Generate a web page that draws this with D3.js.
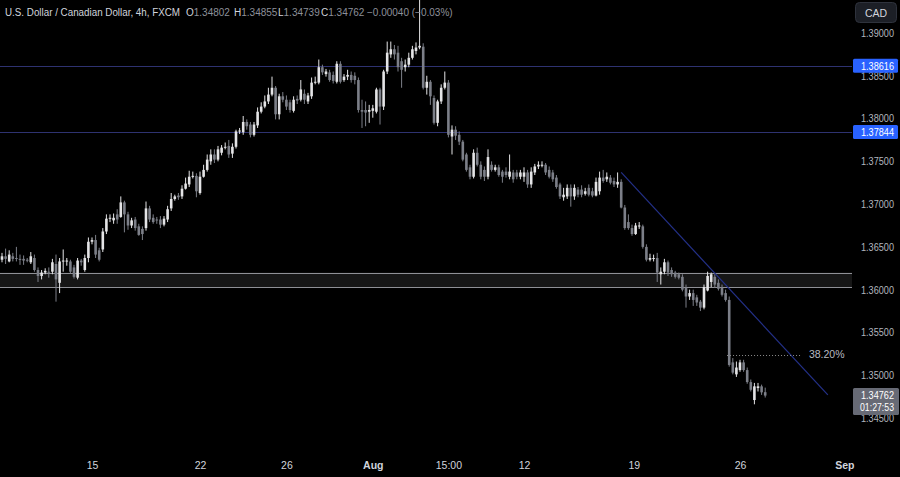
<!DOCTYPE html>
<html><head><meta charset="utf-8">
<script src="https://cdn.jsdelivr.net/npm/d3@7"></script>
<style>html,body{margin:0;padding:0;background:#000;overflow:hidden}</style>
</head><body>
<svg id="chart" width="900" height="477"></svg>
<script>
// ---- data (USD/CAD, 4h, FXCM) ----
const opens=[1.3635,1.3639,1.3633,1.3639,1.3637,1.3636,1.3636,1.3635,1.3632,1.3637,
1.3623,1.3616,1.3620,1.3621,1.3621,1.3630,1.3608,1.3633,1.3633,1.3633,
1.3626,1.3614,1.3634,1.3623,1.3637,1.3656,1.3658,1.3646,1.3647,1.3668,
1.3683,1.3681,1.3688,1.3685,1.3702,1.3688,1.3675,1.3682,1.3674,1.3671,
1.3672,1.3695,1.3684,1.3682,1.3682,1.3676,1.3682,1.3695,1.3706,1.3710,
1.3709,1.3718,1.3723,1.3732,1.3733,1.3713,1.3732,1.3740,1.3750,1.3758,
1.3752,1.3760,1.3766,1.3768,1.3759,1.3767,1.3785,1.3784,1.3796,1.3793,
1.3781,1.3792,1.3808,1.3814,1.3820,1.3828,1.3836,1.3805,1.3826,1.3822,
1.3819,1.3809,1.3823,1.3822,1.3829,1.3820,1.3826,1.3842,1.3842,1.3860,
1.3852,1.3854,1.3851,1.3843,1.3864,1.3845,1.3849,1.3851,1.3850,1.3845,
1.3810,1.3810,1.3808,1.3809,1.3808,1.3834,1.3814,1.3855,1.3875,1.3881,
1.3877,1.3867,1.3860,1.3863,1.3871,1.3879,1.3883,1.3884,1.3836,1.3843,
1.3824,1.3795,1.3820,1.3836,1.3842,1.3779,1.3787,1.3781,1.3773,1.3758,
1.3743,1.3732,1.3760,1.3746,1.3740,1.3732,1.3746,1.3740,1.3743,1.3738,
1.3738,1.3732,1.3737,1.3737,1.3732,1.3732,1.3737,1.3723,1.3737,1.3744,
1.3745,1.3746,1.3740,1.3737,1.3731,1.3723,1.3708,1.3709,1.3719,1.3709,
1.3717,1.3717,1.3712,1.3719,1.3715,1.3710,1.3715,1.3731,1.3729,1.3731,
1.3727,1.3723,1.3726,1.3696,1.3679,1.3672,1.3665,1.3674,1.3674,1.3650,
1.3635,1.3636,1.3637,1.3618,1.3621,1.3632,1.3623,1.3620,1.3618,1.3615,
1.3602,1.3592,1.3596,1.3591,1.3586,1.3579,1.3599,1.3609,1.3615,1.3608,
1.3602,1.3596,1.3588,1.3515,1.3501,1.3506,1.3515,1.3506,1.3492,1.3471,
1.3485,1.3487,1.34802];
const highs=[1.3643,1.3648,1.3646,1.3643,1.3650,1.3641,1.3640,1.3637,1.3644,1.3641,
1.3626,1.3623,1.3625,1.3626,1.3636,1.3641,1.3637,1.3647,1.3637,1.3635,
1.3629,1.3637,1.3636,1.3641,1.3661,1.3661,1.3664,1.3649,1.3672,1.3688,
1.3688,1.3689,1.3694,1.3709,1.3704,1.3691,1.3684,1.3685,1.3677,1.3674,
1.3703,1.3698,1.3688,1.3685,1.3686,1.3686,1.3698,1.3713,1.3711,1.3713,
1.3722,1.3731,1.3739,1.3738,1.3736,1.3738,1.3746,1.3758,1.3764,1.3764,
1.3768,1.3769,1.3772,1.3775,1.3771,1.3787,1.3789,1.3803,1.3799,1.3796,
1.3796,1.3813,1.3819,1.3827,1.3836,1.3849,1.3838,1.3829,1.3831,1.3827,
1.3822,1.3826,1.3827,1.3845,1.3834,1.3830,1.3848,1.3849,1.3869,1.3863,
1.3858,1.3857,1.3855,1.3867,1.3867,1.3852,1.3857,1.3855,1.3854,1.3848,
1.3822,1.3820,1.3816,1.3816,1.3836,1.3836,1.3857,1.3890,1.3890,1.3886,
1.3885,1.3871,1.3869,1.3877,1.3885,1.3889,1.3945,1.3888,1.3850,1.3845,
1.3827,1.3822,1.3840,1.3855,1.3845,1.3792,1.3791,1.3785,1.3775,1.3760,
1.3746,1.3764,1.3766,1.3750,1.3744,1.3764,1.3750,1.3746,1.3746,1.3740,
1.3743,1.3758,1.3740,1.3740,1.3740,1.3743,1.3740,1.3743,1.3747,1.3750,
1.3750,1.3748,1.3744,1.3740,1.3734,1.3725,1.3719,1.3723,1.3723,1.3723,
1.3720,1.3722,1.3719,1.3723,1.3719,1.3731,1.3738,1.3740,1.3737,1.3734,
1.3731,1.3737,1.3729,1.3699,1.3688,1.3676,1.3678,1.3679,1.3676,1.3653,
1.3642,1.3641,1.3643,1.3626,1.3636,1.3634,1.3626,1.3622,1.3620,1.3618,
1.3606,1.3600,1.3600,1.3594,1.3588,1.3606,1.3621,1.3620,1.3618,1.3612,
1.3606,1.3600,1.3592,1.3520,1.3516,1.3518,1.3518,1.3509,1.3495,1.3491,
1.3491,1.3489,1.34855];
const lows=[1.3632,1.3630,1.3632,1.3633,1.3633,1.3629,1.3629,1.3632,1.3630,1.3621,
1.3609,1.3612,1.3618,1.3614,1.3618,1.3586,1.3596,1.3621,1.3628,1.3619,
1.3613,1.3612,1.3628,1.3621,1.3632,1.3653,1.3637,1.3633,1.3644,1.3665,
1.3679,1.3677,1.3677,1.3684,1.3667,1.3670,1.3672,1.3669,1.3663,1.3658,
1.3669,1.3679,1.3677,1.3677,1.3672,1.3674,1.3679,1.3692,1.3704,1.3705,
1.3706,1.3717,1.3720,1.3730,1.3708,1.3711,1.3731,1.3738,1.3746,1.3748,
1.3750,1.3757,1.3764,1.3754,1.3754,1.3765,1.3782,1.3781,1.3787,1.3778,
1.3779,1.3789,1.3806,1.3812,1.3817,1.3826,1.3799,1.3799,1.3819,1.3810,
1.3807,1.3807,1.3817,1.3820,1.3817,1.3817,1.3823,1.3840,1.3840,1.3851,
1.3849,1.3843,1.3841,1.3841,1.3841,1.3843,1.3845,1.3842,1.3840,1.3807,
1.3789,1.3791,1.3795,1.3801,1.3806,1.3793,1.3810,1.3852,1.3871,1.3869,
1.3855,1.3836,1.3855,1.3860,1.3869,1.3875,1.3881,1.3834,1.3828,1.3816,
1.3793,1.3791,1.3817,1.3834,1.3778,1.3758,1.3775,1.3769,1.3750,1.3738,
1.3729,1.3730,1.3744,1.3729,1.3727,1.3729,1.3738,1.3738,1.3732,1.3725,
1.3731,1.3729,1.3725,1.3729,1.3729,1.3726,1.3719,1.3719,1.3734,1.3741,
1.3743,1.3734,1.3730,1.3726,1.3718,1.3706,1.3704,1.3706,1.3697,1.3705,
1.3708,1.3708,1.3710,1.3709,1.3708,1.3709,1.3711,1.3725,1.3726,1.3723,
1.3720,1.3719,1.3695,1.3670,1.3670,1.3663,1.3664,1.3671,1.3648,1.3633,
1.3633,1.3633,1.3609,1.3606,1.3618,1.3616,1.3615,1.3613,1.3612,1.3598,
1.3579,1.3588,1.3581,1.3581,1.3575,1.3577,1.3598,1.3603,1.3602,1.3599,
1.3592,1.3586,1.3510,1.3501,1.3498,1.3504,1.3504,1.3490,1.3481,1.3466,
1.3481,1.3477,1.34739];
const closes=[1.3639,1.3636,1.3641,1.3636,1.3636,1.3635,1.3634,1.3634,1.3639,1.3623,
1.3616,1.3620,1.3622,1.3620,1.3632,1.3612,1.3633,1.3634,1.3634,1.3621,
1.3615,1.3634,1.3632,1.3637,1.3656,1.3658,1.3641,1.3635,1.3668,1.3683,
1.3684,1.3684,1.3682,1.3702,1.3688,1.3675,1.3681,1.3672,1.3664,1.3665,
1.3695,1.3682,1.3679,1.3681,1.3676,1.3683,1.3694,1.3706,1.3709,1.3708,
1.3718,1.3724,1.3732,1.3733,1.3715,1.3732,1.3740,1.3752,1.3758,1.3752,
1.3764,1.3766,1.3767,1.3758,1.3767,1.3785,1.3786,1.3796,1.3791,1.3781,
1.3793,1.3808,1.3814,1.3820,1.3828,1.3836,1.3805,1.3826,1.3822,1.3814,
1.3810,1.3822,1.3821,1.3834,1.3822,1.3827,1.3842,1.3843,1.3860,1.3854,
1.3855,1.3845,1.3844,1.3864,1.3843,1.3849,1.3851,1.3845,1.3845,1.3810,
1.3808,1.3807,1.3810,1.3812,1.3834,1.3814,1.3855,1.3877,1.3881,1.3875,
1.3860,1.3857,1.3863,1.3871,1.3881,1.3883,1.3885,1.3836,1.3843,1.3826,
1.3795,1.3820,1.3836,1.3842,1.3781,1.3787,1.3780,1.3773,1.3752,1.3740,
1.3732,1.3760,1.3746,1.3732,1.3732,1.3755,1.3740,1.3743,1.3734,1.3732,
1.3734,1.3738,1.3729,1.3732,1.3737,1.3737,1.3723,1.3738,1.3744,1.3746,
1.3746,1.3737,1.3732,1.3729,1.3720,1.3709,1.3711,1.3719,1.3709,1.3719,
1.3711,1.3711,1.3715,1.3711,1.3710,1.3726,1.3731,1.3727,1.3732,1.3725,
1.3723,1.3726,1.3696,1.3672,1.3672,1.3665,1.3675,1.3675,1.3650,1.3635,
1.3637,1.3637,1.3620,1.3621,1.3632,1.3620,1.3618,1.3615,1.3614,1.3600,
1.3592,1.3596,1.3588,1.3585,1.3579,1.3603,1.3616,1.3618,1.3606,1.3601,
1.3594,1.3588,1.3512,1.3503,1.3509,1.3515,1.3506,1.3492,1.3483,1.3487,
1.3487,1.3480,1.34762];

const priceTicks=[1.390,1.385,1.380,1.375,1.370,1.365,1.360,1.355,1.350,1.345];
const timeTickBars=[25,55,79,103,124,145,175.5,205,234];
const timeTickLabels=["15","22","26","Aug","15:00","12","19","26","Sep"];
const levelPrices=[1.38616,1.37844];
const zonePrices=[1.3603,1.3620];
const trendPoints=[[172,1.3737],[229.4,1.3477]];
const fibBars=[201.4,222.2];
const fibPrice=1.3524;
const fibLabel="38.20%";
const lastPrice=1.34762;
const lastTimer="01:27:53";
const titleText="U.S. Dollar / Canadian Dollar, 4h, FXCM";
const ohlcLetters=["O","H","L","C"];
const ohlcValues=["1.34802","1.34855","1.34739","1.34762"];
const changeText="\u22120.00040 (\u22120.03%)";
const currency="CAD";

// ---- drawing ----
const W=900,H=477,plotR=852;
const svg=d3.select("#chart");
const font="'Liberation Sans', Arial, sans-serif";
svg.append("rect").attr("width",W).attr("height",H).attr("fill","#000");

const x=d3.scaleLinear().domain([-0.5556,236.11]).range([0,plotR]);
const y=d3.scaleLinear().domain([1.345,1.39]).range([418,33]);

svg.append("clipPath").attr("id","plot").append("rect").attr("x",0).attr("y",0).attr("width",plotR).attr("height",450);
const plot=svg.append("g").attr("clip-path","url(#plot)");

// zone
plot.append("rect").attr("x",0).attr("width",plotR)
  .attr("y",y(zonePrices[1])).attr("height",y(zonePrices[0])-y(zonePrices[1]))
  .attr("fill","#161616");
zonePrices.forEach(p=>plot.append("line").attr("x1",0).attr("x2",plotR)
  .attr("y1",Math.round(y(p))+0.5).attr("y2",Math.round(y(p))+0.5)
  .attr("stroke","#8f9096").attr("stroke-width",1));

// horizontal levels
levelPrices.forEach(p=>plot.append("line").attr("x1",0).attr("x2",plotR)
  .attr("y1",Math.round(y(p))+0.5).attr("y2",Math.round(y(p))+0.5)
  .attr("stroke","#2e3270").attr("stroke-width",1.2));

// candles
const data=closes.map((c,i)=>({i,o:opens[i],h:highs[i],l:lows[i],c}));
const bull="#e4e4e6",bear="#7c7f88";
const bw=2.6;
const cg=plot.append("g");
cg.selectAll("line.w").data(data).join("line")
  .attr("x1",d=>x(d.i)).attr("x2",d=>x(d.i))
  .attr("y1",d=>y(d.h)).attr("y2",d=>y(d.l))
  .attr("stroke",d=>d.c>=d.o?bull:bear).attr("stroke-width",1);
cg.selectAll("rect.b").data(data).join("rect")
  .attr("x",d=>x(d.i)-bw/2).attr("width",bw)
  .attr("y",d=>y(Math.max(d.o,d.c)))
  .attr("height",d=>Math.max(1,Math.abs(y(d.o)-y(d.c))))
  .attr("fill",d=>d.c>=d.o?bull:bear);

// trend line
plot.append("line")
  .attr("x1",x(trendPoints[0][0])).attr("y1",y(trendPoints[0][1]))
  .attr("x2",x(trendPoints[1][0])).attr("y2",y(trendPoints[1][1]))
  .attr("stroke","#233088").attr("stroke-width",1.2);

// fib level
plot.append("line").attr("x1",x(fibBars[0])).attr("x2",x(fibBars[1]))
  .attr("y1",Math.round(y(fibPrice))+0.5).attr("y2",Math.round(y(fibPrice))+0.5)
  .attr("stroke","#8a8a8a").attr("stroke-width",1).attr("stroke-dasharray","1,2");
plot.append("text").attr("x",x(fibBars[1])+7).attr("y",y(fibPrice)).attr("dy","0.35em")
  .attr("fill","#b8bac0").attr("font-family",font).attr("font-size",10.5).text(fibLabel);

// price axis
const ya=svg.append("g").attr("transform",`translate(${plotR},0)`)
  .call(d3.axisRight(y).tickValues(priceTicks).tickFormat(d3.format(".5f")).tickSize(0).tickPadding(9));
ya.select(".domain").remove();
ya.selectAll("text").attr("fill","#b2b5be").attr("font-family",font).attr("font-size",10.5)
  .attr("textLength",33).attr("lengthAdjust","spacingAndGlyphs");

// level labels
levelPrices.forEach(p=>{
  const g=svg.append("g").attr("transform",`translate(${plotR+1},${y(p)})`);
  g.append("rect").attr("x",0).attr("y",-7).attr("width",45).attr("height",14).attr("rx",1.5).attr("fill","#2962ff");
  g.append("text").attr("x",8).attr("y",0).attr("dy","0.35em").attr("fill","#fff")
    .attr("font-family",font).attr("font-size",10.5).attr("textLength",33).attr("lengthAdjust","spacingAndGlyphs")
    .text(d3.format(".5f")(p));
});

// last price label
{
  const yp=y(lastPrice);
  const g=svg.append("g").attr("transform",`translate(${plotR+1},${yp})`);
  g.append("rect").attr("x",0).attr("y",-7.5).attr("width",46).attr("height",27).attr("rx",1.5).attr("fill","#676a75");
  g.append("text").attr("x",8).attr("y",0).attr("dy","0.35em").attr("fill","#fff")
    .attr("font-family",font).attr("font-size",10.5).attr("textLength",33).attr("lengthAdjust","spacingAndGlyphs")
    .text(d3.format(".5f")(lastPrice));
  g.append("text").attr("x",7).attr("y",12).attr("dy","0.35em").attr("fill","#fff")
    .attr("font-family",font).attr("font-size",10).attr("textLength",34).attr("lengthAdjust","spacingAndGlyphs")
    .text(lastTimer);
}

// time axis
const xa=svg.append("g").attr("transform","translate(0,457)")
  .call(d3.axisBottom(x).tickValues(timeTickBars).tickFormat((d,i)=>timeTickLabels[i]).tickSize(0).tickPadding(5));
xa.select(".domain").remove();
xa.selectAll("text").attr("fill","#d1d4dc").attr("font-family",font).attr("font-size",10.5)
  .attr("font-weight",(d,i)=>/^[A-Z]/.test(timeTickLabels[i])?"bold":"normal");

// currency button
svg.append("rect").attr("x",855.5).attr("y",2.5).attr("width",41).attr("height",20).attr("rx",4)
  .attr("fill","#1c1f26").attr("stroke","#2e323c");
svg.append("text").attr("x",876).attr("y",13).attr("dy","0.35em").attr("text-anchor","middle")
  .attr("fill","#d1d4dc").attr("font-family",font).attr("font-size",10.5).text(currency);

// header legend
const hy=12, hfs=10;
svg.append("text").attr("x",5).attr("y",hy).attr("dy","0.35em")
  .attr("fill","#d1d4dc").attr("font-family",font).attr("font-size",hfs)
  .attr("textLength",175).attr("lengthAdjust","spacingAndGlyphs").text(titleText);
const lx=[186,234,278,321];
ohlcLetters.forEach((l,i)=>{
  const t=svg.append("text").attr("x",lx[i]).attr("y",hy).attr("dy","0.35em")
    .attr("font-family",font).attr("font-size",hfs);
  t.append("tspan").attr("fill","#d1d4dc").text(l);
  t.append("tspan").attr("fill","#8d909a").text(ohlcValues[i]);
});
svg.append("text").attr("x",367).attr("y",hy).attr("dy","0.35em")
  .attr("fill","#8d909a").attr("font-family",font).attr("font-size",hfs).text(changeText);
</script>
</body></html>
